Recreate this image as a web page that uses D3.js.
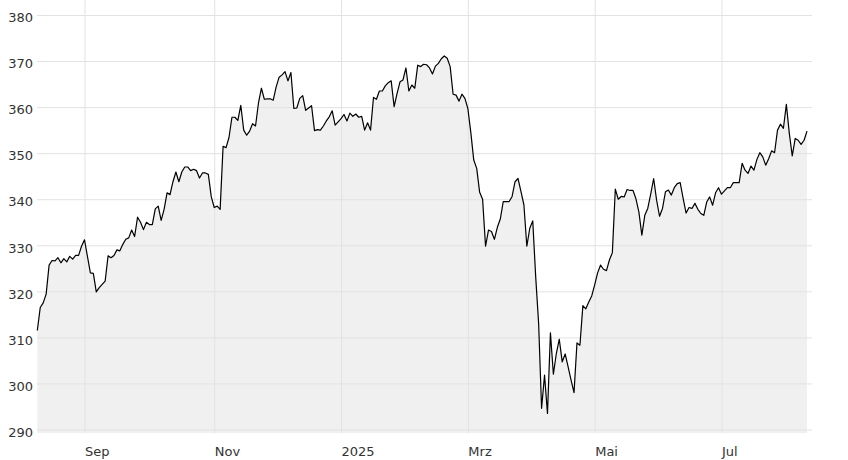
<!DOCTYPE html>
<html>
<head>
<meta charset="utf-8">
<script src="https://cdn.jsdelivr.net/npm/d3@7"></script>
<style>
  html, body { margin: 0; padding: 0; background: #fff; }
  svg { display: block; }
  text { font-family: "DejaVu Sans", Verdana, sans-serif; font-size: 13px; fill: #333; }
</style>
</head>
<body>
<svg id="chart" width="848" height="460"></svg>
<script>
// ---- data ----
const startDate = "2024-08-09"; // first trading day (weekdays only)
const values = [
  311.5, 316.5, 317.5, 319.4, 325.7, 326.7, 326.6, 327.3, 326.2, 327.1,
  326.4, 327.6, 327.0, 327.8, 327.8, 329.8, 331.2, 327.6, 324.0, 323.9,
  319.9, 320.8, 321.5, 322.2, 327.7, 327.3, 327.8, 329.0, 328.8, 330.2,
  331.3, 331.6, 333.3, 331.9, 336.1, 335.0, 333.4, 335.0, 334.5, 334.5,
  337.9, 338.5, 335.4, 337.8, 341.4, 341.0, 343.8, 345.9, 343.8, 345.9,
  347.0, 347.0, 346.2, 346.5, 346.2, 344.6, 345.7, 345.7, 345.4, 340.5,
  338.2, 338.5, 337.8, 351.5, 351.2, 353.4, 357.8, 357.8, 357.1, 360.4,
  355.0, 353.9, 354.8, 356.4, 355.9, 360.9, 364.1, 361.7, 361.8, 361.8,
  361.5, 364.4, 366.5, 367.0, 367.7, 365.7, 367.5, 359.7, 359.8, 361.9,
  362.5, 359.3, 359.8, 360.3, 354.9, 355.1, 355.0, 355.9, 357.0, 357.9,
  359.2, 356.1, 356.8, 357.5, 358.4, 357.0, 358.7, 358.0, 358.5, 357.8,
  358.0, 355.0, 356.6, 355.0, 362.1, 361.7, 363.5, 363.5, 364.6, 365.3,
  365.7, 360.1, 363.0, 365.5, 365.9, 368.5, 363.5, 364.8, 364.1, 369.1,
  368.8, 369.3, 369.2, 368.5, 367.2, 368.9, 369.5, 370.5, 371.1, 370.6,
  368.8, 362.8, 362.6, 361.3, 362.8, 361.9, 359.7, 354.5, 348.5, 346.7,
  341.5, 340.0, 329.8, 333.3, 333.0, 331.3, 333.9, 335.7, 339.5, 339.5,
  339.5, 340.6, 343.8, 344.5, 341.7, 338.8, 329.8, 333.7, 335.3, 323.2,
  313.0, 294.6, 301.8, 293.5, 311.0, 302.0, 306.5, 309.6, 304.7, 306.4,
  303.6, 300.7, 298.0, 308.8, 308.3, 316.9, 316.2, 317.7, 319.0, 321.4,
  324.0, 325.7, 324.8, 324.5, 326.8, 328.4, 342.2, 340.0, 340.6, 340.5,
  342.1, 341.9, 341.9, 340.1, 337.2, 332.2, 336.5, 338.0, 341.1, 344.5,
  339.8, 336.3, 338.0, 341.6, 342.0, 340.9, 342.5, 343.4, 343.6, 340.2,
  337.0, 338.2, 338.0, 339.1, 337.8, 336.9, 336.5, 339.4, 340.5, 338.7,
  341.4, 342.5, 341.1, 341.8, 342.5, 342.5, 343.6, 343.6, 343.6, 347.8,
  346.3, 345.6, 347.2, 346.3, 348.6, 350.1, 349.2, 347.4, 348.8, 350.5,
  350.1, 355.0, 356.3, 355.4, 360.6, 354.3, 349.4, 353.2, 352.8, 351.9,
  352.8, 354.8
];
const yTicks = [290, 300, 310, 320, 330, 340, 350, 360, 370, 380];
const tickMonths = [8, 10, 0, 2, 4, 6];           // Sep, Nov, Jan, Mar, May, Jul
const tickLabels = ["Sep", "Nov", "2025", "Mrz", "Mai", "Jul"];

// ---- build trading-day dates (weekdays) ----
const dates = [];
{
  let d = new Date(startDate + "T12:00:00");
  while (dates.length < values.length) {
    const wd = d.getDay();
    if (wd !== 0 && wd !== 6) dates.push(new Date(d));
    d.setDate(d.getDate() + 1);
  }
}
const data = values.map((v, i) => ({ i, date: dates[i], v }));

// tick indexes: first weekday of each listed month
const tickIdx = tickMonths.map(m => {
  const f = data.find((p, k) => p.date.getMonth() === m && (k === 0 || data[k - 1].date.getMonth() !== m));
  return f ? f.i : 0;
});

// ---- layout ----
const plotLeft = 37.3, plotRight = 812, lastX = 807, plotTop = 0, plotBottom = 433;

const x = d3.scaleLinear().domain([0, values.length - 1]).range([plotLeft, lastX]);
const y = d3.scaleLinear().domain([290, 380]).range([429.5, 15]);

const svg = d3.select("#chart");

// area
const area = d3.area()
  .x(d => x(d.i))
  .y0(plotBottom)
  .y1(d => y(d.v));
svg.append("path")
  .datum(data)
  .attr("d", area)
  .attr("fill", "#f0f0f0");

// y axis + horizontal grid
const yAxis = d3.axisLeft(y)
  .tickValues(yTicks)
  .tickSize(-(plotRight - 37))
  .tickPadding(4)
  .tickFormat(d3.format("d"));
const gy = svg.append("g")
  .attr("transform", "translate(37,0)")
  .call(yAxis);
gy.select(".domain").remove();
gy.selectAll(".tick line").attr("stroke", "#e2e2e2");
gy.selectAll(".tick text")
  .attr("dy", "0.52em")
  .attr("fill", "#333")
  .style("font-family", "'DejaVu Sans', Verdana, sans-serif")
  .style("font-size", "13px");

// x axis + vertical grid
const xAxis = d3.axisBottom(x)
  .tickValues(tickIdx)
  .tickSize(-(plotBottom - plotTop))
  .tickFormat((d, k) => tickLabels[k]);
const gx = svg.append("g")
  .attr("transform", `translate(0,${plotBottom})`)
  .call(xAxis);
gx.select(".domain").remove();
gx.selectAll(".tick line").attr("stroke", "#e2e2e2");
gx.selectAll(".tick text")
  .attr("y", 22.5)
  .attr("dy", 0)
  .attr("text-anchor", "start")
  .attr("fill", "#333")
  .style("font-family", "'DejaVu Sans', Verdana, sans-serif")
  .style("font-size", "13px");

// line
const line = d3.line()
  .x(d => x(d.i))
  .y(d => y(d.v));
svg.append("path")
  .datum(data)
  .attr("d", line)
  .attr("fill", "none")
  .attr("stroke", "#000")
  .attr("stroke-width", 1.2)
  .attr("stroke-linejoin", "round");
</script>
</body>
</html>
